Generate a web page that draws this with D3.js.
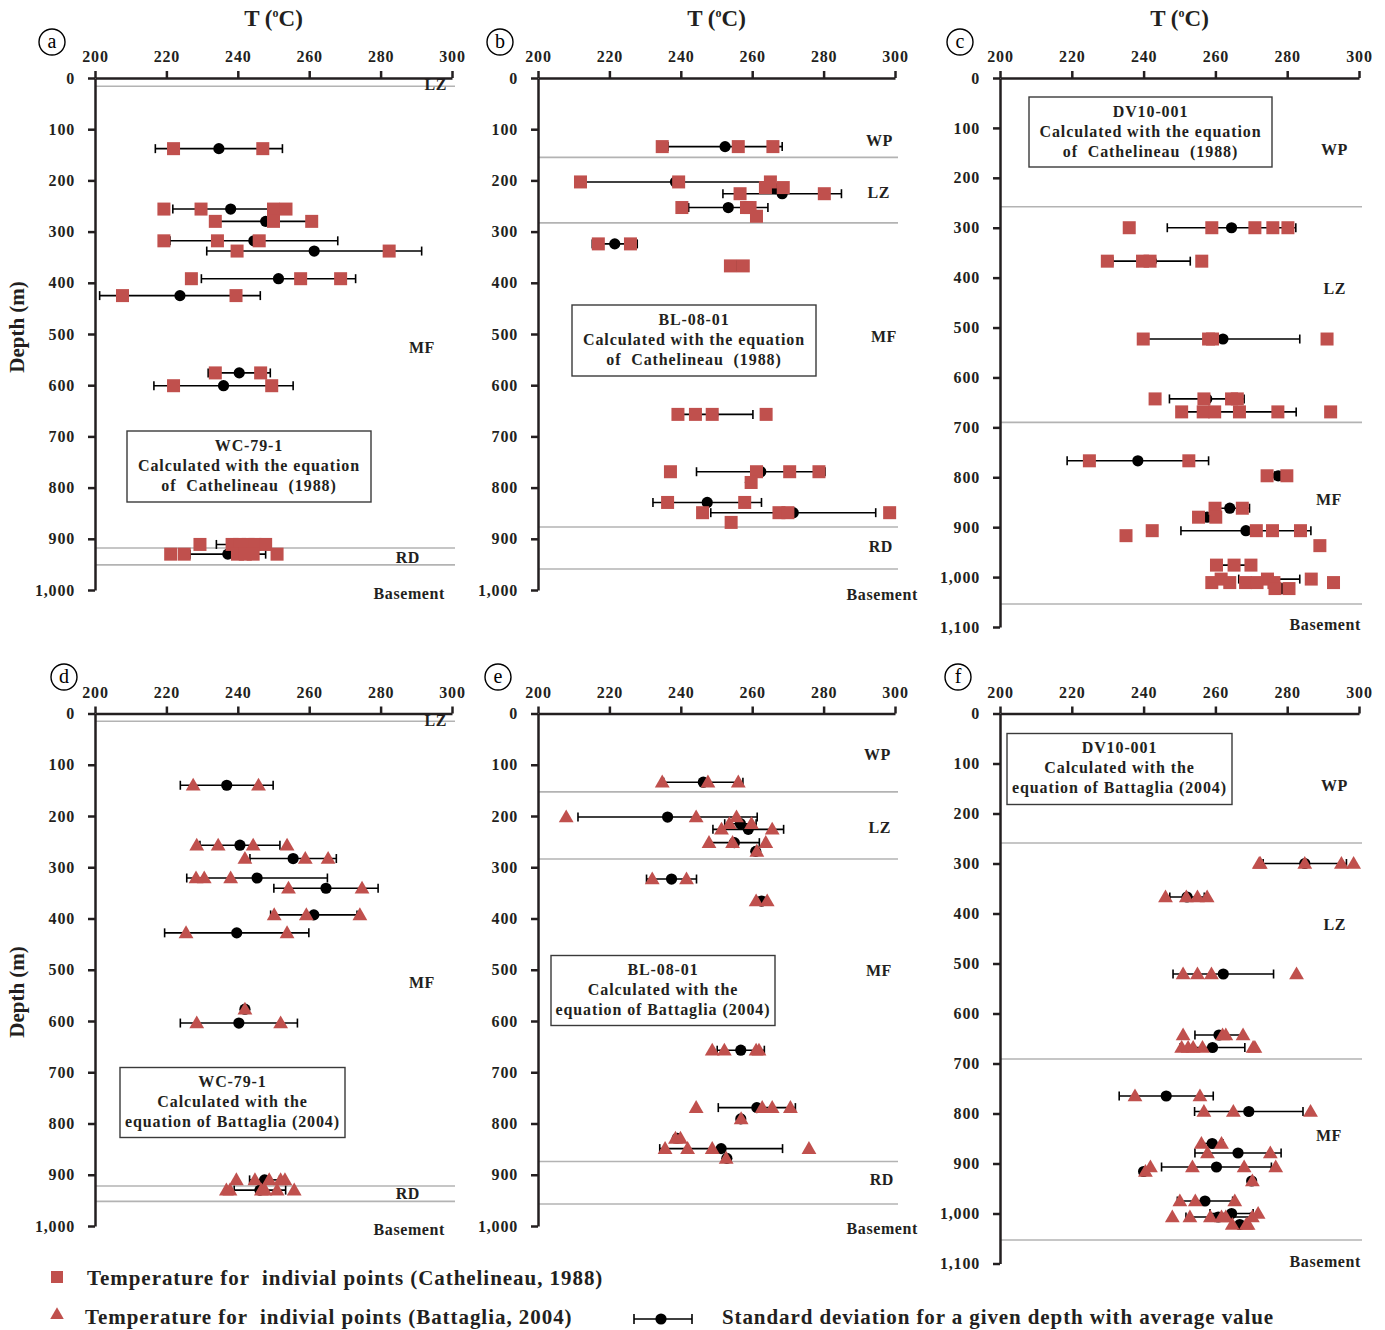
<!DOCTYPE html>
<html>
<head>
<meta charset="utf-8">
<script src="https://cdn.jsdelivr.net/npm/d3@7"></script>
<style>
  body { margin: 0; background: #fff; }
  svg { display: block; font-family: "Liberation Serif", "Times New Roman", serif; }
  .axis .tick text { font-family: "Liberation Serif", "Times New Roman", serif; font-size: 16px; font-weight: bold; fill: #231f20; letter-spacing: 0.8px; }
  .axis .domain, .axis .tick line { stroke: #231f20; stroke-width: 2.5px; }
  .lbl { font-weight: bold; fill: #231f20; white-space: pre; }
</style>
</head>
<body>
<div id="chart"></div>
<script>
// ---- axis ticks ----
const tempTicks = [200, 220, 240, 260, 280, 300];
const depthTicks = [0, 100, 200, 300, 400, 500, 600, 700, 800, 900, 1000];
const depthTicksLong = [0, 100, 200, 300, 400, 500, 600, 700, 800, 900, 1000, 1100];

// ---- WC-79-1, Cathelineau (1988): [depth, [temperatures]] and [depth, mean, sd] ----
const wcCathPoints = [
  [138, [222, 247]],
  [256, [219.3, 229.7, 250, 253.5]],
  [280, [233.7, 250, 260.7]],
  [318, [219.3, 234.3, 246]],
  [338, [239.8, 282.4]],
  [392, [227, 257.6, 268.8]],
  [425, [207.7, 239.5]],
  [576, [233.7, 246.4]],
  [601, [222, 249.5]],
  [911, [229.4, 238.4, 240.5, 242.9, 244.8, 247.8]],
  [930, [221.2, 225, 239.9, 242.1, 244.3, 251]]
];
const wcCathMeans = [
  [138, 234.7, 17.8], [256, 238, 16.2], [280, 247.8, 13], [318, 244.5, 23.5],
  [338, 261.4, 30.1], [392, 251.4, 21.6], [425, 223.8, 22.5], [576, 240.4, 8.7],
  [601, 236, 19.5], [911, 241, 7], [930, 237.2, 10.6]
];

// ---- BL-08-01, Cathelineau (1988) ----
const blCathPoints = [
  [134, [234.8, 256.1, 265.8]],
  [203, [211.9, 239.4, 265.1]],
  [214, [263.7, 268.7]],
  [226, [256.6, 280.2]],
  [253, [240.3, 258.4, 259.4]],
  [270, [261.2]],
  [324, [216.9, 225.9]],
  [367, [253.9, 257.5]],
  [657, [239.2, 244.1, 248.8, 263.9]],
  [769, [237.1, 261.2, 270.5, 278.7]],
  [790, [259.7]],
  [829, [236.3, 257.9]],
  [849, [246.1, 267.5, 270, 298.5]],
  [868, [254.1]]
];
const blCathMeans = [
  [134, 252.4, 16], [203, 238.5, 26.5], [216, 266.5, 1.5], [226, 268.4, 16.6],
  [253, 253.3, 11.1], [270, 261, 0.5], [324, 221.5, 6.3], [367, 255.7, 1.8],
  [657, 249, 11.2], [769, 262.4, 18], [790, 259.5, 1], [829, 247.4, 15.2],
  [849, 271.5, 23.1], [868, 254, 0.5]
];

// ---- DV10-001, Cathelineau (1988) ----
const dvCathPoints = [
  [300, [236, 259, 271, 276, 280.2]],
  [367, [229.9, 239.7, 241.8, 256.2]],
  [523, [239.9, 258.1, 259.2, 291.1]],
  [643, [243.2, 256.8, 264.5, 266.1]],
  [669, [250.6, 256.6, 259.8, 266.7, 277.4, 292.1]],
  [767, [224.9, 252.6]],
  [797, [274.4, 279.9]],
  [862, [259.9, 267.5]],
  [880, [255.3, 260.1]],
  [907, [242.4, 271.4, 275.9, 283.7]],
  [917, [235.1]],
  [937, [289.1]],
  [976, [260.3, 265.2, 269.9]],
  [1004, [261.6, 274.5, 286.7]],
  [1011, [259, 264, 268.4, 271.6, 276.3, 292.9]],
  [1023, [276.6, 280.5]]
];
const dvCathMeans = [
  [300, 264.5, 17.9], [367, 242.2, 10.8], [523, 262.1, 21.4], [643, 257.6, 10.4],
  [669, 266.7, 15.8], [767, 238.4, 19.7], [797, 277.5, 1], [862, 264, 5.5],
  [880, 257.7, 0.8], [907, 268.5, 18.1], [976, 265, 5], [1004, 275, 8.5],
  [1023, 278.5, 1.2]
];

// ---- WC-79-1, Battaglia (2004) ----
const wcBattPoints = [
  [140, [227.5, 245.8]],
  [257, [228.5, 234.5, 244.3, 253.8]],
  [283, [242, 258.9, 265.3]],
  [321, [228.3, 230.6, 238]],
  [341, [254.2, 274.8]],
  [393, [250.2, 259.2, 274.2]],
  [428, [225.5, 253.8]],
  [577, [242]],
  [604, [228.5, 252]],
  [910, [239.6, 244.8, 248.8, 252, 253.2]],
  [930, [236.8, 237.8, 246.6, 247.6, 251, 255.8]]
];
const wcBattMeans = [
  [140, 236.9, 13], [257, 240.6, 11.2], [283, 255.5, 12.1], [321, 245.4, 19.7],
  [341, 264.7, 14.6], [393, 261.3, 12.1], [428, 239.7, 20.2], [577, 242, 0.5],
  [604, 240.3, 16.4], [910, 247.5, 4.2], [930, 246.2, 7.2]
];

// ---- BL-08-01, Battaglia (2004) ----
const blBattPoints = [
  [134, [234.8, 247.6, 256.1]],
  [202, [207.9, 244.3, 255.6]],
  [215, [253.6, 259.8]],
  [226, [251.4, 265.6]],
  [252, [247.9, 254.5, 263.8]],
  [269, [261.3]],
  [323, [232, 241.6]],
  [366, [261.1, 264.2]],
  [657, [248.8, 252.2, 261.1, 261.9]],
  [769, [244.3, 262.8, 265.6, 270.7]],
  [791, [256.9]],
  [829, [238.5, 239.9]],
  [849, [235.6, 241.9, 248.8, 275.9]],
  [868, [252.7]]
];
const blBattMeans = [
  [134, 246.3, 11.1], [202, 236.3, 25.1], [215, 256.7, 4.4], [226, 258.9, 9.9],
  [252, 255, 7], [269, 261, 0.5], [323, 237.4, 7], [366, 262.6, 1],
  [657, 256.8, 6.6], [769, 261.3, 10.8], [791, 256.8, 0.5], [829, 239, 0.8],
  [849, 251.3, 17.2], [868, 252.9, 0.5]
];

// ---- DV10-001, Battaglia (2004) ----
const dvBattPoints = [
  [300, [272.2, 272.5, 284.9, 295.1, 298.5]],
  [367, [246.1, 251.9, 255, 257.7]],
  [521, [251, 255, 258.9, 282.6]],
  [643, [251, 262, 262.9, 267.7]],
  [668, [250.6, 252.4, 253.8, 256.4, 270.5, 271]],
  [765, [237.6, 255.7]],
  [796, [256.8, 265, 286.5]],
  [860, [256.1, 261.7]],
  [879, [257.8, 275.3]],
  [907, [241.9, 253.6, 268, 276.8]],
  [916, [240.5]],
  [935, [270.3]],
  [975, [250.1, 254.4, 265.4]],
  [1000, [271.9]],
  [1007, [248, 252.9, 258.6, 261.7, 262.9, 270.3]],
  [1022, [264.7, 268.6, 269.1]]
];
const dvBattMeans = [
  [300, 284.9, 11.6], [367, 252.1, 4.8], [521, 262.2, 14], [643, 261, 6.7],
  [668, 259.2, 9], [765, 246.3, 13.1], [796, 269.3, 15.1], [860, 259.1, 3],
  [879, 266.3, 12], [907, 260.3, 15.3], [916, 240, 0.5], [935, 270.1, 0.5],
  [975, 257.1, 7.7], [1000, 264.5, 6], [1007, 260.8, 9], [1022, 266.8, 2.5]
];

// ---- unit boundaries (depth, m) and unit labels ----
const wcZones = [16, 918, 951];
const wcLabels = [['LZ', 13], ['MF', 527], ['RD', 936], ['Basement', 1007]];
const blZones = [155, 283, 877, 959];
const blLabels = [['WP', 121], ['LZ', 223], ['MF', 504], ['RD', 914], ['Basement', 1008]];
const dvZones = [258, 690, 1054];
const dvLabels = [['WP', 144], ['LZ', 421], ['MF', 845], ['Basement', 1095]];
const blBattLabels = [['WP', 79], ['LZ', 223], ['MF', 502], ['RD', 910], ['Basement', 1004]];

const cathText = 'Calculated with the equation';
const cathText2 = 'of  Cathelineau  (1988)';
const battText = 'Calculated with the';
const battText2 = 'equation of Battaglia (2004)';

const red = '#c0504d';

const panels = [
  { tag: 'a', left: 95, top: 78, width: 357, height: 512, maxDepth: 1000, ticks: depthTicks,
    points: wcCathPoints, means: wcCathMeans, marker: 'square', zones: wcZones, labels: wcLabels,
    labelDx: [-5, -17, -32, -7], box: [32, 353, 244, 71],
    boxLines: ['WC-79-1', cathText, cathText2], badge: [52, 42], title: true, depthTitle: 327 },
  { tag: 'b', left: 538, top: 78, width: 357, height: 512, maxDepth: 1000, ticks: depthTicks,
    points: blCathPoints, means: blCathMeans, marker: 'square', zones: blZones, labels: blLabels,
    labelDx: [-2, -5, 2, -2, 23], box: [34, 227, 244, 71],
    boxLines: ['BL-08-01', cathText, cathText2], badge: [500, 42], title: true },
  { tag: 'c', left: 1000, top: 78, width: 359, height: 549, maxDepth: 1100, ticks: depthTicksLong,
    points: dvCathPoints, means: dvCathMeans, marker: 'square', zones: dvZones, labels: dvLabels,
    labelDx: [-11, -13, -17, 2], box: [29, 19, 243, 70],
    boxLines: ['DV10-001', cathText, cathText2], badge: [960, 42], title: true },
  { tag: 'd', left: 95, top: 713.5, width: 357, height: 512.5, maxDepth: 1000, ticks: depthTicks,
    points: wcBattPoints, means: wcBattMeans, marker: 'triangle', zones: [15, 922, 952], labels: [['LZ', 13], ['MF', 525], ['RD', 937], ['Basement', 1006]],
    labelDx: [-5, -17, -32, -7], box: [25, 354, 225, 70],
    boxLines: ['WC-79-1', battText, battText2], badge: [64, 677], title: false, depthTitle: 992 },
  { tag: 'e', left: 538, top: 713.5, width: 357, height: 512.5, maxDepth: 1000, ticks: depthTicks,
    points: blBattPoints, means: blBattMeans, marker: 'triangle', zones: [153, 284, 874, 957], labels: blBattLabels,
    labelDx: [-4, -4, -3, -1, 23], box: [13, 242, 224, 70],
    boxLines: ['BL-08-01', battText, battText2], badge: [498, 677], title: false },
  { tag: 'f', left: 1000, top: 713.5, width: 359, height: 550, maxDepth: 1100, ticks: depthTicksLong,
    points: dvBattPoints, means: dvBattMeans, marker: 'triangle', zones: [259, 691, 1053], labels: [['WP', 143], ['LZ', 421], ['MF', 843], ['Basement', 1095]],
    labelDx: [-11, -13, -17, 2], box: [7, 20, 225, 71],
    boxLines: ['DV10-001', battText, battText2], badge: [958, 677], title: false }
];

const svg = d3.select('#chart').append('svg')
  .attr('width', 1385)
  .attr('height', 1330);

function drawPanel(p) {
  const g = svg.append('g').attr('transform', `translate(${p.left},${p.top})`);
  const x = d3.scaleLinear().domain([200, 300]).range([0, p.width]);
  const y = d3.scaleLinear().domain([0, p.maxDepth]).range([0, p.height]);

  // unit boundaries
  g.selectAll('line.zone')
    .data(p.zones)
    .enter()
    .append('line')
    .attr('class', 'zone')
    .attr('x1', 0)
    .attr('x2', p.width + 3)
    .attr('y1', d => y(d))
    .attr('y2', d => y(d))
    .attr('stroke', '#b3b3b3')
    .attr('stroke-width', 1.6);

  // legend box of the panel
  const b = p.box;
  g.append('rect')
    .attr('x', b[0]).attr('y', b[1])
    .attr('width', b[2]).attr('height', b[3])
    .attr('fill', '#fff')
    .attr('stroke', '#3a3a3a')
    .attr('stroke-width', 1.4);

  g.selectAll('text.box-line')
    .data(p.boxLines)
    .enter()
    .append('text')
    .attr('class', 'lbl box-line')
    .attr('x', b[0] + b[2] / 2)
    .attr('y', (d, i) => b[1] + 14 + i * 20)
    .attr('dy', '0.35em')
    .attr('text-anchor', 'middle')
    .style('font-size', '16px')
    .style('letter-spacing', '0.9px')
    .text(d => d);

  // axes
  g.append('g')
    .attr('class', 'axis')
    .call(d3.axisTop(x).tickValues(tempTicks).tickSize(7).tickSizeOuter(0).tickPadding(9));

  g.append('g')
    .attr('class', 'axis')
    .call(d3.axisLeft(y).tickValues(p.ticks).tickFormat(d3.format(',')).tickSize(7).tickSizeOuter(0).tickPadding(13));

  // unit names
  g.selectAll('text.unit')
    .data(p.labels)
    .enter()
    .append('text')
    .attr('class', 'lbl unit')
    .attr('x', (d, i) => p.width + p.labelDx[i])
    .attr('y', d => y(d[1]))
    .attr('dy', '0.35em')
    .attr('text-anchor', 'end')
    .style('font-size', '16px')
    .style('letter-spacing', '0.6px')
    .text(d => d[0]);

  // standard deviation bars
  const bars = g.selectAll('g.sd')
    .data(p.means)
    .enter()
    .append('g')
    .attr('class', 'sd');

  bars.append('line')
    .attr('x1', d => x(d[1] - d[2]))
    .attr('x2', d => x(d[1] + d[2]))
    .attr('y1', d => y(d[0]))
    .attr('y2', d => y(d[0]))
    .attr('stroke', '#000')
    .attr('stroke-width', 1.6);

  [-1, 1].forEach(side => {
    bars.append('line')
      .attr('x1', d => x(d[1] + side * d[2]))
      .attr('x2', d => x(d[1] + side * d[2]))
      .attr('y1', d => y(d[0]) - 4.5)
      .attr('y2', d => y(d[0]) + 4.5)
      .attr('stroke', '#000')
      .attr('stroke-width', 1.6);
  });

  bars.append('circle')
    .attr('cx', d => x(d[1]))
    .attr('cy', d => y(d[0]))
    .attr('r', 5.6)
    .attr('fill', '#000');

  // individual inclusions
  const pts = p.points.flatMap(([depth, temps]) => temps.map(t => [depth, t]));
  if (p.marker === 'square') {
    g.selectAll('rect.pt')
      .data(pts)
      .enter()
      .append('rect')
      .attr('class', 'pt')
      .attr('x', d => x(d[1]) - 6.5)
      .attr('y', d => y(d[0]) - 6.5)
      .attr('width', 13)
      .attr('height', 13)
      .attr('fill', red);
  } else {
    g.selectAll('path.pt')
      .data(pts)
      .enter()
      .append('path')
      .attr('class', 'pt')
      .attr('transform', d => `translate(${x(d[1])},${y(d[0]) + 1})`)
      .attr('d', d3.symbol(d3.symbolTriangle, 95))
      .attr('fill', red);
  }

  // panel letter
  svg.append('circle')
    .attr('cx', p.badge[0]).attr('cy', p.badge[1])
    .attr('r', 13)
    .attr('fill', 'none')
    .attr('stroke', '#000')
    .attr('stroke-width', 1.4);
  svg.append('text')
    .attr('x', p.badge[0]).attr('y', p.badge[1])
    .attr('dy', '0.32em')
    .attr('text-anchor', 'middle')
    .style('font-size', '20px')
    .text(p.tag);

  if (p.title) {
    const t = svg.append('text')
      .attr('class', 'lbl')
      .attr('x', p.left + p.width / 2)
      .attr('y', p.top - 52)
      .attr('text-anchor', 'middle')
      .style('font-size', '23px');
    t.append('tspan').text('T (');
    t.append('tspan').attr('dy', -9).style('font-size', '12px').text('o');
    t.append('tspan').attr('dy', 9).text('C)');
  }

  if (p.depthTitle) {
    svg.append('text')
      .attr('class', 'lbl')
      .attr('transform', `translate(24,${p.depthTitle}) rotate(-90)`)
      .attr('text-anchor', 'middle')
      .style('font-size', '21px')
      .text('Depth (m)');
  }
}

panels.forEach(drawPanel);

// ---- bottom legend ----
const legend = svg.append('g');
legend.append('rect')
  .attr('x', 51).attr('y', 1271).attr('width', 12).attr('height', 12)
  .attr('fill', red);
legend.append('text')
  .attr('class', 'lbl')
  .attr('x', 87).attr('y', 1278).attr('dy', '0.35em')
  .style('font-size', '21px').style('letter-spacing', '0.95px')
  .text('Temperature for  indivial points (Cathelineau, 1988)');

legend.append('path')
  .attr('transform', 'translate(57,1315)')
  .attr('d', d3.symbol(d3.symbolTriangle, 80))
  .attr('fill', red);
legend.append('text')
  .attr('class', 'lbl')
  .attr('x', 85).attr('y', 1317).attr('dy', '0.35em')
  .style('font-size', '21px').style('letter-spacing', '0.95px')
  .text('Temperature for  indivial points (Battaglia, 2004)');

legend.append('line')
  .attr('x1', 634).attr('x2', 692).attr('y1', 1319).attr('y2', 1319)
  .attr('stroke', '#000').attr('stroke-width', 1.6);
[634, 692].forEach(cx => {
  legend.append('line')
    .attr('x1', cx).attr('x2', cx).attr('y1', 1314).attr('y2', 1324)
    .attr('stroke', '#000').attr('stroke-width', 1.6);
});
legend.append('circle')
  .attr('cx', 661).attr('cy', 1319).attr('r', 5.6).attr('fill', '#000');
legend.append('text')
  .attr('class', 'lbl')
  .attr('x', 722).attr('y', 1317).attr('dy', '0.35em')
  .style('font-size', '21px').style('letter-spacing', '0.9px')
  .text('Standard deviation for a given depth with average value');
</script>
</body>
</html>
